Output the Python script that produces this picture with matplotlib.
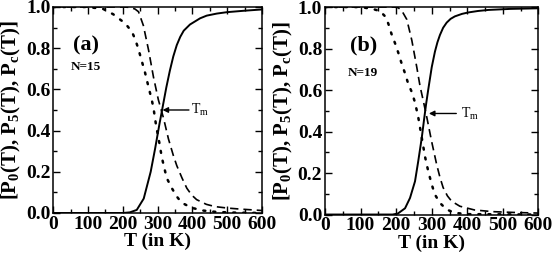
import matplotlib
matplotlib.use('Agg')
import matplotlib.pyplot as plt
from matplotlib.ticker import MultipleLocator

plt.rcParams['font.family'] = 'Liberation Serif'
plt.rcParams['mathtext.fontset'] = 'custom'
plt.rcParams['mathtext.rm'] = 'Liberation Serif'
plt.rcParams['mathtext.bf'] = 'Liberation Serif:bold'
plt.rcParams['mathtext.it'] = 'Liberation Serif:italic'

# --- panel (a), N=15 ---
Tc_a = [0, 200, 220, 240, 260, 280, 293, 305, 315, 325, 335, 345, 355, 365, 375, 393, 422, 441, 470, 500, 550, 600]
Pc_a = [0, 0, 0.003, 0.015, 0.07, 0.2, 0.315, 0.43, 0.52, 0.61, 0.69, 0.76, 0.815, 0.855, 0.885, 0.915, 0.945, 0.958, 0.968, 0.975, 0.982, 0.988]

T5_a = [0, 200, 221, 235, 245, 259, 274, 288, 302, 317, 331, 345, 355, 370, 384, 398, 412, 440, 465, 500, 537, 600]
P5_a = [1, 1, 0.998, 0.99, 0.977, 0.91, 0.79, 0.66, 0.55, 0.46, 0.36, 0.28, 0.23, 0.17, 0.12, 0.087, 0.065, 0.042, 0.031, 0.024, 0.019, 0.012]

T0_a = [0, 100, 144, 172, 207, 226, 235, 244, 254, 264, 274, 283, 288, 296, 305, 312, 326, 341, 355, 369, 398, 430, 470, 520, 600]
P0_a = [1, 1, 0.99, 0.965, 0.92, 0.88, 0.845, 0.80, 0.74, 0.68, 0.61, 0.55, 0.51, 0.42, 0.34, 0.27, 0.17, 0.12, 0.08, 0.05, 0.025, 0.012, 0.005, 0.002, 0.0]

# --- panel (b), N=19 ---
Tc_b = [0, 190, 205, 225, 239, 253, 262, 272, 279, 284, 290, 300, 309, 316, 323, 332, 342, 353, 365, 385, 403, 430, 459, 520, 600]
Pc_b = [0, 0, 0.005, 0.03, 0.08, 0.16, 0.256, 0.37, 0.465, 0.53, 0.6, 0.71, 0.785, 0.83, 0.865, 0.9, 0.925, 0.943, 0.955, 0.967, 0.974, 0.981, 0.986, 0.991, 0.994]

T5_b = [0, 195, 205, 215, 230, 244, 258, 267, 276, 286, 293, 300, 314, 323, 332, 344, 356, 379, 420, 470, 530, 600]
P5_b = [1, 1, 0.997, 0.985, 0.94, 0.84, 0.71, 0.62, 0.55, 0.47, 0.41, 0.35, 0.24, 0.18, 0.13, 0.09, 0.064, 0.04, 0.022, 0.014, 0.01, 0.007]

T0_b = [0, 100, 136, 155, 169, 178, 187, 197, 206, 215, 225, 234, 244, 253, 262, 272, 281, 290, 300, 309, 323, 342, 365, 400, 600]
P0_b = [1, 1, 0.99, 0.98, 0.955, 0.92, 0.87, 0.825, 0.78, 0.73, 0.68, 0.63, 0.59, 0.54, 0.47, 0.37, 0.28, 0.21, 0.145, 0.096, 0.056, 0.024, 0.008, 0.002, 0]

xticks = [0, 100, 200, 300, 400, 500, 600]
yticks = [0.0, 0.2, 0.4, 0.6, 0.8, 1.0]

panels = [
    dict(rect=[0.0962, 0.168, 0.3767, 0.8047], Tc=Tc_a, Pc=Pc_a, T5=T5_a, P5=P5_a, T0=T0_a, P0=P0_a,
         tag='(a)', tag_xy=(94, 0.815), n='N=15', n_xy=(94, 0.71),
         tip=(314, 0.5), tail=(390, 0.5), tm_xy=(396, 0.5)),
    dict(rect=[0.5866, 0.162, 0.3854, 0.8105], Tc=Tc_b, Pc=Pc_b, T5=T5_b, P5=P5_b, T0=T0_b, P0=P0_b,
         tag='(b)', tag_xy=(108, 0.815), n='N=19', n_xy=(107, 0.68),
         tip=(292, 0.487), tail=(369, 0.487), tm_xy=(383, 0.487)),
]

fig = plt.figure(figsize=(5.54, 2.56), dpi=100)

for p in panels:
    ax = fig.add_axes(p['rect'])
    ax.plot(p['Tc'], p['Pc'], color='black', lw=1.4, ls='-')
    ax.plot(p['T5'], p['P5'], color='black', lw=1.2, ls=(0, (5, 3)))
    ax.plot(p['T0'], p['P0'], color='black', lw=1.8, ls=(0, (0.8, 3.2)), dash_capstyle='round')

    ax.set_xlim(0, 600)
    ax.set_ylim(0, 1.0)
    ax.set_xticks(xticks)
    ax.set_yticks(yticks)
    ax.set_yticklabels([f'{v:.1f}' for v in yticks])
    ax.xaxis.set_minor_locator(MultipleLocator(50))
    ax.yaxis.set_minor_locator(MultipleLocator(0.1))
    ax.tick_params(which='both', direction='in', top=True, right=True, width=1.0,
                   labelsize=14, pad=2)
    ax.tick_params(which='major', length=5)
    ax.tick_params(which='minor', length=3)
    for lab in ax.get_xticklabels() + ax.get_yticklabels():
        lab.set_fontweight('bold')
    for s in ax.spines.values():
        s.set_linewidth(1.1)

    ax.set_xlabel('T (in K)', fontsize=14, fontweight='bold', labelpad=0)
    ax.set_ylabel(r'[P$_\mathbf{0}$(T), P$_\mathbf{5}$(T), P$_\mathbf{c}$(T)]',
                  fontsize=15, fontweight='bold', labelpad=2)

    ax.text(*p['tag_xy'], p['tag'], fontsize=16, fontweight='bold', ha='center', va='center')
    ax.text(*p['n_xy'], p['n'], fontsize=9.5, fontweight='bold', ha='center', va='center')

    ax.annotate('', xy=p['tip'], xytext=p['tail'],
                arrowprops=dict(arrowstyle='-|>', color='black', lw=1.0, mutation_scale=8,
                                shrinkA=0, shrinkB=0))
    ax.text(*p['tm_xy'], r'T$_\mathrm{m}$', fontsize=10, ha='left', va='center')

fig.savefig('out.png', dpi=100)
